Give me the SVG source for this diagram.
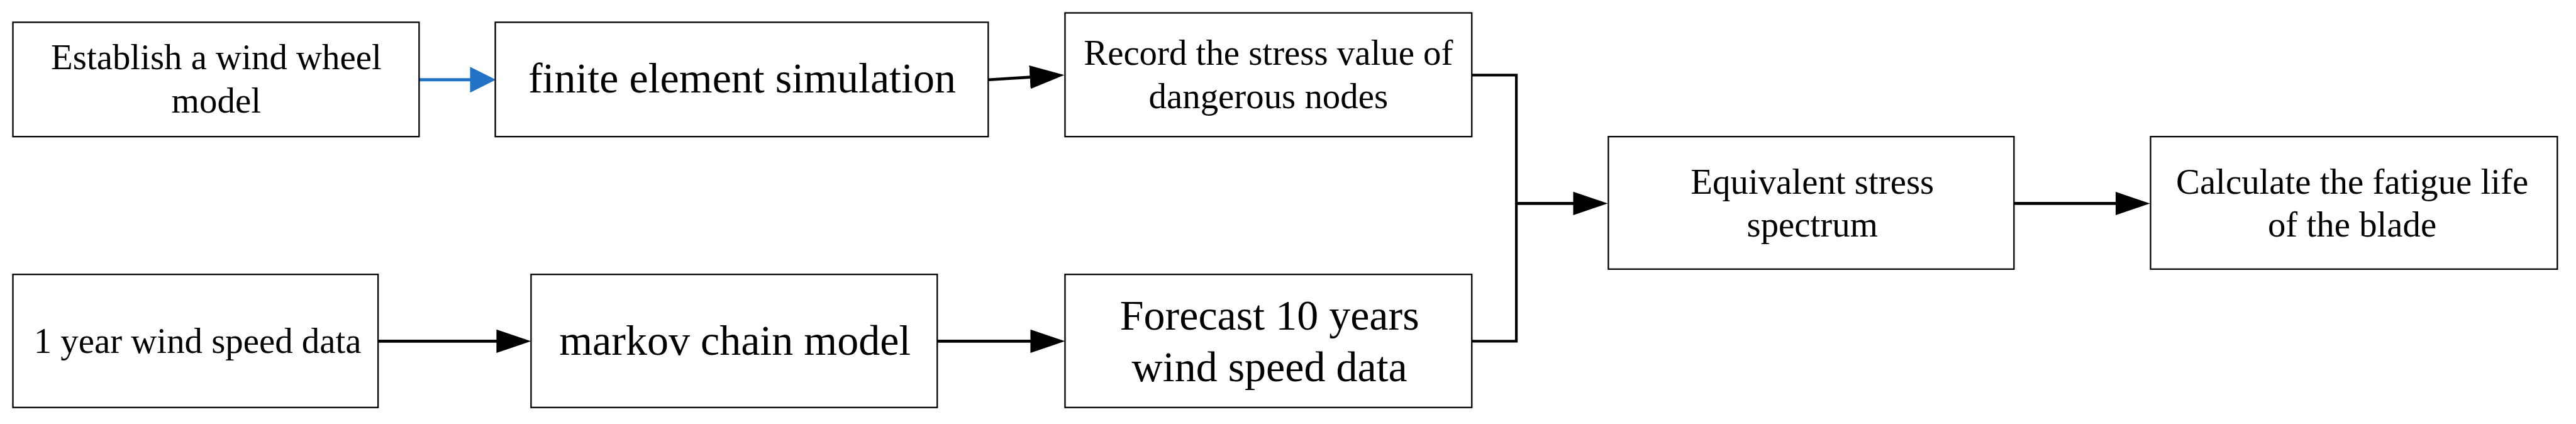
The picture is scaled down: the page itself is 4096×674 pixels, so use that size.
<svg xmlns="http://www.w3.org/2000/svg" width="4096" height="674" viewBox="0 0 4096 674">
<style>
.box{fill:#fff;stroke:#000;stroke-width:2.5}
.t{font-family:"Liberation Serif","Times New Roman",serif;fill:#000;text-anchor:middle}
.s{font-size:61px}
.l{font-size:73px}
.c{fill:none;stroke:#000;stroke-width:5;stroke-linecap:round}
.b{fill:none;stroke:#2173C6;stroke-width:5.5;stroke-linecap:round}
.k{fill:none;stroke:#000;stroke-width:4.5;stroke-linejoin:miter}
</style>
<defs>
<marker id="ah" markerUnits="userSpaceOnUse" viewBox="0 0 59 40" refX="1" refY="20" markerWidth="59" markerHeight="40" orient="auto">
<path d="M0,0 L59,20 L0,40 Z" fill="#000"/>
</marker>
<marker id="ahb" markerUnits="userSpaceOnUse" viewBox="0 0 44 44" refX="1" refY="22" markerWidth="44" markerHeight="44" orient="auto">
<path d="M0,0 L44,22 L0,44 Z" fill="#2173C6"/>
</marker>
</defs>
<rect width="4096" height="674" fill="#fff"/>
<g transform="scale(0.932)">
<g id="connectors">
<line class="b" x1="716" y1="136" x2="803" y2="136" marker-end="url(#ahb)"/>
<line class="c" x1="1687" y1="136" x2="1758" y2="131.6" marker-end="url(#ah)"/>
<polyline class="k" points="2511,128 2587,128 2587,582 2511,582"/>
<line class="c" x1="2587" y1="347" x2="2685" y2="347" marker-end="url(#ah)"/>
<line class="c" x1="3437" y1="347" x2="3610" y2="347" marker-end="url(#ah)"/>
<line class="c" x1="646" y1="582" x2="848" y2="582" marker-end="url(#ah)"/>
<line class="c" x1="1600" y1="582" x2="1759" y2="582" marker-end="url(#ah)"/>
</g>
<g id="n1">
<rect class="box" x="22" y="38" width="693" height="195"/>
<text class="t s" x="369" y="118">Establish a wind wheel</text>
<text class="t s" x="369" y="192">model</text>
</g>
<g id="n2">
<rect class="box" x="845" y="38" width="841" height="195"/>
<text class="t l" x="1266" y="158">finite element simulation</text>
</g>
<g id="n3">
<rect class="box" x="1817" y="22" width="694" height="211"/>
<text class="t s" x="2164" y="110">Record the stress value of</text>
<text class="t s" x="2164" y="185">dangerous nodes</text>
</g>
<g id="n4">
<rect class="box" x="22" y="468" width="623" height="227"/>
<text class="t s" x="337" y="602">1 year wind speed data</text>
</g>
<g id="n5">
<rect class="box" x="906" y="468" width="693" height="227"/>
<text class="t l" x="1254" y="605">markov chain model</text>
</g>
<g id="n6">
<rect class="box" x="1817" y="468" width="694" height="227"/>
<text class="t l" x="2166" y="562">Forecast 10 years</text>
<text class="t l" x="2166" y="650">wind speed data</text>
</g>
<g id="n7">
<rect class="box" x="2744" y="233" width="692" height="226"/>
<text class="t s" x="3092" y="330">Equivalent stress</text>
<text class="t s" x="3092" y="403">spectrum</text>
</g>
<g id="n8">
<rect class="box" x="3669" y="233" width="694" height="226"/>
<text class="t s" x="4013" y="330">Calculate the fatigue life</text>
<text class="t s" x="4013" y="403">of the blade</text>
</g>
</g>
</svg>
